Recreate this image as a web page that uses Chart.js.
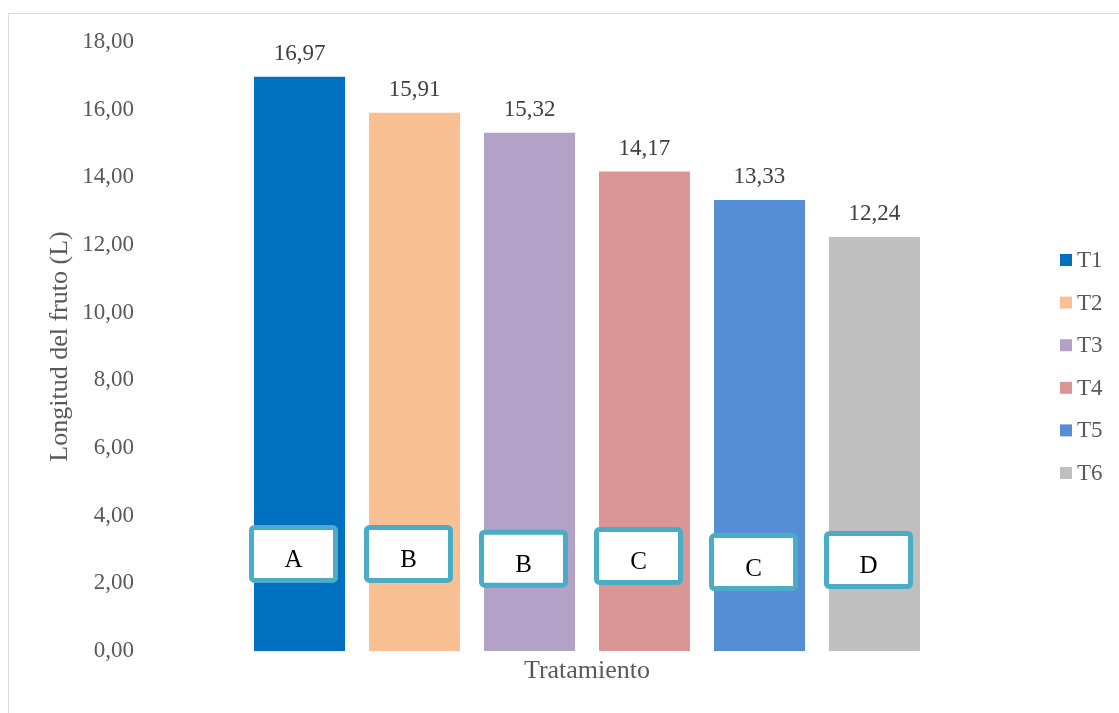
<!DOCTYPE html>
<html lang="es">
<head>
<meta charset="utf-8">
<title>Longitud del fruto por tratamiento</title>
<script src="https://cdn.jsdelivr.net/npm/chart.js@4.4.1/dist/chart.umd.min.js"></script>
<style>
  html, body { margin: 0; padding: 0; background: #ffffff; }
  #wrap { width: 1119px; height: 713px; position: relative; }
  canvas { display: block; }
</style>
</head>
<body>
<div id="wrap"><canvas id="chart" width="1119" height="713"></canvas></div>
<script>
// Treatments, mean fruit length and significance groups
const categories = ['Tratamiento'];
const treatments = ['T1', 'T2', 'T3', 'T4', 'T5', 'T6'];
const lengths = [16.97, 15.91, 15.32, 14.17, 13.33, 12.24];
const groups = ['A', 'B', 'B', 'C', 'C', 'D'];
const yTicks = [0, 2, 4, 6, 8, 10, 12, 14, 16, 18];

const barColors = ['#0070C0', '#F9C193', '#B3A2C7', '#D99694', '#558ED5', '#BFBFBF'];
// vertical placement (in axis units) of each group-letter box
const groupBoxLevels = [2.87, 2.87, 2.73, 2.81, 2.63, 2.69];

const SERIF = '"Liberation Serif", "Times New Roman", serif';
const fmt = v => v.toFixed(2).replace('.', ',');

// Light frame along the top and left edges
const framePlugin = {
  id: 'frame',
  beforeDraw(chart) {
    const ctx = chart.ctx;
    ctx.save();
    ctx.strokeStyle = '#D9D9D9';
    ctx.lineWidth = 1;
    ctx.beginPath();
    ctx.moveTo(8.5, chart.height);
    ctx.lineTo(8.5, 13.5);
    ctx.lineTo(chart.width, 13.5);
    ctx.stroke();
    ctx.restore();
  }
};

// Value labels above bars and boxed group letters
const annotatePlugin = {
  id: 'annotate',
  afterDatasetsDraw(chart) {
    const ctx = chart.ctx;
    const yScale = chart.scales.y;
    ctx.save();
    chart.data.datasets.forEach((ds, i) => {
      const bar = chart.getDatasetMeta(i).data[0];
      if (!bar) return;
      // value label
      ctx.font = '23px ' + SERIF;
      ctx.fillStyle = '#404040';
      ctx.textAlign = 'center';
      ctx.textBaseline = 'alphabetic';
      ctx.fillText(fmt(ds.data[0]), bar.x, bar.y - 17);

      // group letter box
      const cx = bar.x - 6;
      const cy = yScale.getPixelForValue(groupBoxLevels[i]);
      const w = 84, h = 53;
      ctx.beginPath();
      if (ctx.roundRect) ctx.roundRect(cx - w / 2, cy - h / 2, w, h, 3);
      else ctx.rect(cx - w / 2, cy - h / 2, w, h);
      ctx.fillStyle = '#FFFFFF';
      ctx.fill();
      ctx.lineWidth = 5;
      ctx.strokeStyle = '#4BACC6';
      ctx.stroke();

      ctx.font = '25px ' + SERIF;
      ctx.fillStyle = '#000000';
      ctx.textAlign = 'center';
      ctx.textBaseline = 'alphabetic';
      ctx.fillText(groups[i], cx, cy + 13.5);
    });
    ctx.restore();
  }
};

// Vertical legend on the right
const sideLegendPlugin = {
  id: 'sideLegend',
  afterDraw(chart) {
    const ctx = chart.ctx;
    const x0 = 1060, y0 = 260, step = 42.6, box = 12;
    ctx.save();
    ctx.font = '23px ' + SERIF;
    ctx.textAlign = 'left';
    ctx.textBaseline = 'middle';
    chart.data.datasets.forEach((ds, i) => {
      const y = y0 + i * step;
      ctx.fillStyle = ds.backgroundColor;
      ctx.fillRect(x0, y - box / 2, box, box);
      ctx.fillStyle = '#595959';
      ctx.fillText(ds.label, x0 + 17, y + 1);
    });
    ctx.restore();
  }
};

const datasets = treatments.map((t, i) => ({
  label: t,
  data: [lengths[i]],
  backgroundColor: barColors[i],
  borderWidth: 0,
  categoryPercentage: 0.7805,
  barPercentage: 0.7913
}));

new Chart(document.getElementById('chart'), {
  type: 'bar',
  data: { labels: categories, datasets },
  plugins: [framePlugin, annotatePlugin, sideLegendPlugin],
  options: {
    responsive: false,
    devicePixelRatio: 1,
    animation: false,
    layout: { padding: { left: 0, right: 90, top: 42, bottom: 22 } },
    plugins: {
      legend: { display: false },
      tooltip: { enabled: false }
    },
    scales: {
      x: {
        grid: { display: false, drawTicks: false },
        border: { display: false },
        ticks: { display: false },
        title: {
          display: true,
          text: 'Tratamiento',
          color: '#595959',
          font: { family: SERIF, size: 26 },
          padding: { top: 0, bottom: 4 }
        },
        afterFit(scale) { scale.height = 40; }
      },
      y: {
        min: 0,
        max: 18,
        grid: { display: false, drawTicks: false },
        border: { display: false },
        afterBuildTicks(scale) { scale.ticks = yTicks.map(v => ({ value: v })); },
        ticks: {
          padding: 11,
          color: '#595959',
          font: { family: SERIF, size: 23 },
          callback: v => fmt(v)
        },
        title: {
          display: true,
          text: 'Longitud del fruto (L)',
          color: '#595959',
          font: { family: SERIF, size: 26 },
          padding: { top: 45, bottom: 0 }
        },
        afterFit(scale) { scale.width = 145; }
      }
    }
  }
});
</script>
</body>
</html>
